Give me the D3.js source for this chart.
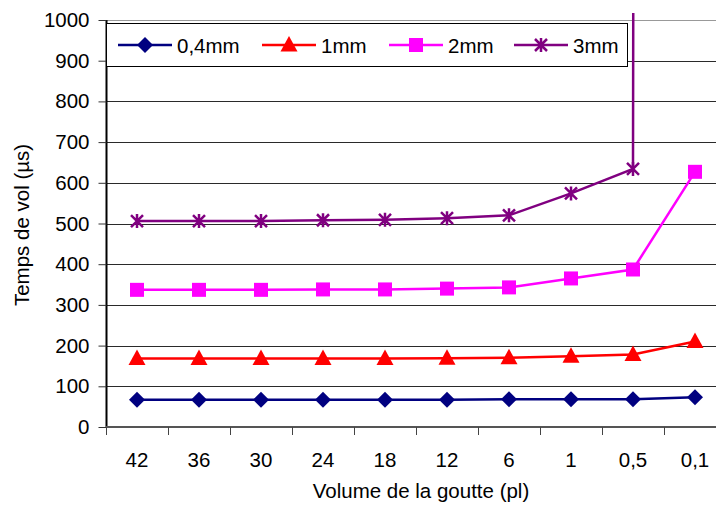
<!DOCTYPE html>
<html>
<head>
<meta charset="utf-8">
<script src="https://cdn.jsdelivr.net/npm/d3@7"></script>
<style>
  body { margin: 0; background: #fff; }
  svg { display: block; font-family: "Liberation Sans", Arial, sans-serif; }
</style>
</head>
<body>
<svg id="chart" width="716" height="505"></svg>
<script>
const categories = ["42", "36", "30", "24", "18", "12", "6", "1", "0,5", "0,1"];
const yTicks = [0, 100, 200, 300, 400, 500, 600, 700, 800, 900, 1000];
const s04 = [67, 67, 67, 67, 67, 67, 68, 68, 68, 73];
const s1 = [168, 168, 168, 168, 168, 169, 170, 174, 178, 210];
const s2 = [337, 337, 337, 338, 338, 340, 343, 365, 387, 627];
const s3 = [506, 506, 506, 508, 509, 513, 520, 574, 634, 100000];
const seriesNames = ["0,4mm", "1mm", "2mm", "3mm"];
const seriesColors = ["#000080", "#FF0000", "#FF00FF", "#800080"];
const seriesMarkers = ["diamond", "triangle", "square", "star"];

const series = [s04, s1, s2, s3].map((vals, i) => ({
  name: seriesNames[i], color: seriesColors[i], marker: seriesMarkers[i],
  values: vals.map((v, j) => ({ cat: categories[j], v }))
}));

const FS = 20.5;
const svg = d3.select("#chart");
const pLeft = 106, pBottom = 427, pTop = 20, pRight = 726;

const x = d3.scaleBand().domain(categories).range([pLeft, pRight]);
const y = d3.scaleLinear().domain([0, 1000]).range([pBottom, pTop]);

// gridlines
svg.append("g").selectAll("line").data(yTicks.filter(d => d > 0)).join("line")
  .attr("x1", pLeft).attr("x2", 716)
  .attr("y1", d => Math.round(y(d)) + 0.5).attr("y2", d => Math.round(y(d)) + 0.5)
  .attr("stroke", d => d === 1000 ? "#999" : "#2a2a2a").attr("stroke-width", 1.2);

// y axis
const yAxis = d3.axisLeft(y).tickValues(yTicks).tickSize(8).tickPadding(9).tickFormat(d3.format("d"));
const gy = svg.append("g").attr("transform", `translate(${pLeft + 0.5},0)`).call(yAxis);
gy.select(".domain").attr("stroke", "#000").attr("stroke-width", 2).attr("d", `M0,${pBottom}V${pTop}`);
gy.selectAll(".tick line").attr("stroke", "#333");
gy.selectAll(".tick text").attr("font-size", FS).attr("fill", "#000")
  .attr("font-family", "'Liberation Sans', Arial, sans-serif");

// x axis
const xAxis = d3.axisBottom(x).tickSize(0).tickPadding(25);
const gx = svg.append("g").attr("transform", `translate(0,${pBottom})`).call(xAxis);
gx.select(".domain").attr("stroke", "#555").attr("stroke-width", 2).attr("d", `M${pLeft},0H716`);
gx.selectAll(".tick text").attr("font-size", FS).attr("fill", "#000")
  .attr("font-family", "'Liberation Sans', Arial, sans-serif");
// boundary ticks
svg.append("g").selectAll("line").data(categories).join("line")
  .attr("x1", d => Math.round(x(d)) + 0.5).attr("x2", d => Math.round(x(d)) + 0.5)
  .attr("y1", pBottom).attr("y2", pBottom + 8)
  .attr("stroke", "#444").attr("stroke-width", 1);

// axis titles
svg.append("text").attr("transform", `translate(29,225) rotate(-90)`)
  .attr("text-anchor", "middle").attr("font-size", FS).text("Temps de vol (µs)");
svg.append("text").attr("x", 421).attr("y", 498)
  .attr("text-anchor", "middle").attr("font-size", FS).text("Volume de la goutte (pl)");

// clip
svg.append("clipPath").attr("id", "clip").append("rect")
  .attr("x", pLeft).attr("y", 13).attr("width", 716 - pLeft).attr("height", pBottom - 13);

const line = d3.line().x(d => x(d.cat) + x.bandwidth() / 2).y(d => y(d.v));

function drawMarker(g, type, color) {
  if (type === "diamond") {
    g.append("path").attr("d", "M0,-8L8,0L0,8L-8,0Z").attr("fill", color);
  } else if (type === "triangle") {
    g.append("path").attr("d", "M0,-9L8.5,6.5L-8.5,6.5Z").attr("fill", color);
  } else if (type === "square") {
    g.append("rect").attr("x", -7).attr("y", -7).attr("width", 14).attr("height", 14).attr("fill", color);
  } else {
    g.append("path").attr("d", "M-6,-6L6,6M-6,6L6,-6M0,-7V7")
      .attr("stroke", color).attr("stroke-width", 2.5).attr("fill", "none");
  }
}

series.forEach(s => {
  svg.append("path").datum(s.values).attr("d", line)
    .attr("fill", "none").attr("stroke", s.color).attr("stroke-width", 2.5)
    .attr("clip-path", "url(#clip)");
  s.values.filter(d => d.v <= 1000).forEach(d => {
    const g = svg.append("g").attr("transform", `translate(${x(d.cat) + x.bandwidth() / 2},${y(d.v)})`);
    drawMarker(g, s.marker, s.color);
  });
});

// legend
const lg = svg.append("g");
lg.append("rect").attr("x", 106.5).attr("y", 23.5).attr("width", 521).attr("height", 43)
  .attr("fill", "#fff").attr("stroke", "#000").attr("stroke-width", 1);
const legX = [118, 262, 389, 514];
series.forEach((s, i) => {
  const g = lg.append("g").attr("transform", `translate(${legX[i]},45)`);
  g.append("line").attr("x1", 0).attr("x2", 54).attr("y1", 0).attr("y2", 0)
    .attr("stroke", s.color).attr("stroke-width", 2.5);
  const m = g.append("g").attr("transform", "translate(27,0)");
  drawMarker(m, s.marker, s.color);
  g.append("text").attr("x", 59).attr("y", 7.5).attr("font-size", FS).text(s.name);
});
</script>
</body>
</html>
